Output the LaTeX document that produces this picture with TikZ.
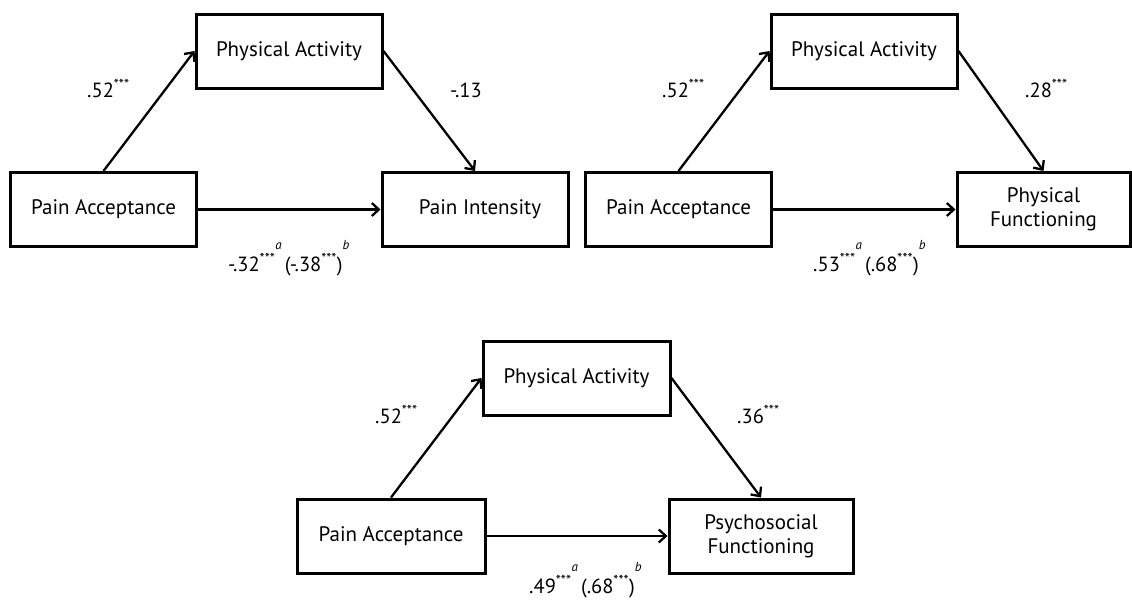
\documentclass[tikz,border=0pt]{standalone}
\usepackage{fontspec}
\setmainfont{PT Sans}
\usetikzlibrary{arrows.meta}
\newcommand{\sig}{\textsuperscript{***}}
\newcommand{\hi}[1]{\raisebox{22pt}{\fontsize{13}{13}\selectfont\itshape #1}}
\tikzset{
  boxnode/.style={draw, line width=3pt, minimum width=#1, minimum height=74pt, inner sep=0pt, align=center, font=\fontsize{21}{24}\selectfont},
  boxnode/.default=186pt,
  arr/.style={line width=2.3pt, -{Straight Barb[length=7pt,width=13pt,line width=2.3pt]}},
  coef/.style={anchor=base west, inner sep=0pt, font=\fontsize{20.5}{21}\selectfont},
}
\begin{document}
\begin{tikzpicture}[x=1pt,y=-1pt]
\useasboundingbox (0,0) rectangle (1132,600);
% panel 1
\node[boxnode] (pa1) at (289,51) {Physical Activity};
\node[boxnode] (pac1) at (103.5,209.5) {Pain Acceptance};
\node[boxnode] (pi) at (475,209.5) {\hspace{10pt}Pain Intensity};
\draw[arr] (pac1.north) -- (pa1.west);
\draw[arr] (pa1.east) -- (pi.north);
\draw[arr] (pac1.east) -- (pi.west);
\node[coef] (l11) at (87,97) {.52\sig};
\node[coef] (l12) at (450,97) {-.13};
\node[coef] (l13) at (228,271) {-.32\sig\rlap{\hi{a}}\hspace{4pt} (-.38\sig)\hi{b}};
% panel 2
\node[boxnode] (pa2) at (864,51) {Physical Activity};
\node[boxnode] (pac2) at (678.5,209.5) {Pain Acceptance};
\node[boxnode=173pt] (pf) at (1043.5,209.5) {Physical\\Functioning};
\draw[arr] (pac2.north) -- (pa2.west);
\draw[arr] (pa2.east) -- (pf.north);
\draw[arr] (pac2.east) -- (pf.west);
\node[coef] (l21) at (662,97) {.52\sig};
\node[coef] (l22) at (1025,97) {.28\sig};
\node[coef] (l23) at (813,271) {.53\sig\rlap{\hi{a}}\hspace{4pt} (.68\sig)\hi{b}};
% panel 3
\node[boxnode=187pt] (pa3) at (576.5,378) {Physical Activity};
\node[boxnode=188pt] (pac3) at (391,536) {Pain Acceptance};
\node[boxnode=184pt] (psf) at (761,536) {Psychosocial\\Functioning};
\draw[arr] (pac3.north) -- (pa3.west);
\draw[arr] (pa3.east) -- (psf.north);
\draw[arr] (pac3.east) -- (psf.west);
\node[coef] (l31) at (375,423) {.52\sig};
\node[coef] (l32) at (737,423) {.36\sig};
\node[coef] (l33) at (529,593) {.49\sig\rlap{\hi{a}}\hspace{4pt} (.68\sig)\hi{b}};
\end{tikzpicture}
\end{document}
